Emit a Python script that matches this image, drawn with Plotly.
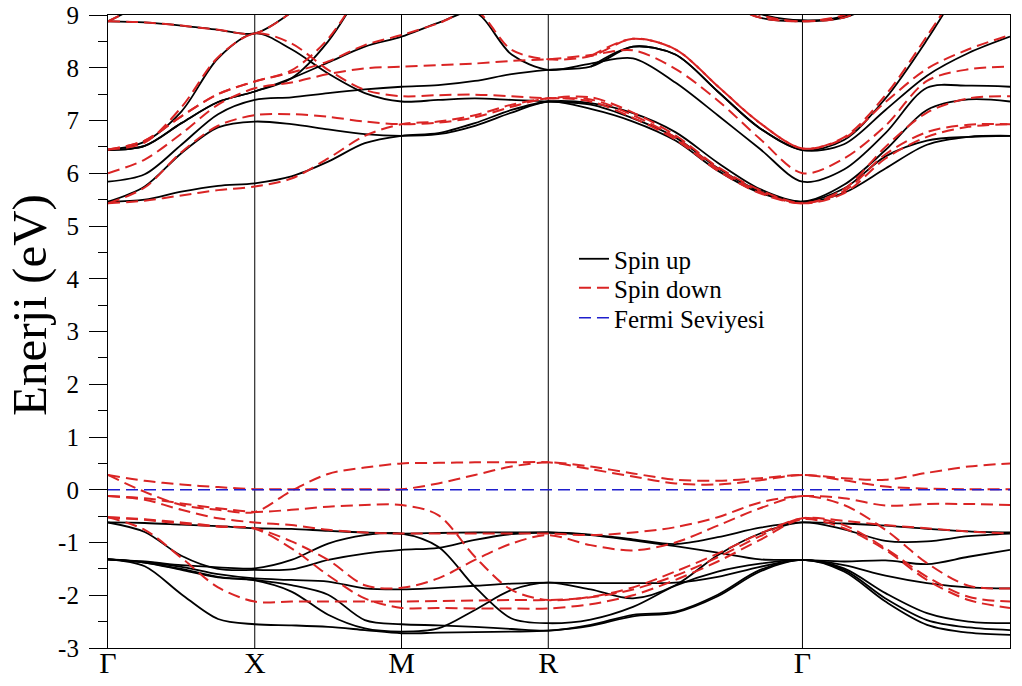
import numpy as np
import plotly.graph_objects as go

N = None

# ---- k-path (simple cubic): high-symmetry labels, segment lengths, samples per segment
sym_labels = ["Γ", "X", "M", "R", "Γ", "M"]
seg_lengths = [0.5, 0.5, 0.5, np.sqrt(3) / 2, np.sqrt(2) / 2]
seg_steps = [4, 4, 4, 6, 5]

sym_k = np.concatenate([[0.0], np.cumsum(seg_lengths)])
k_path = [sym_k[0]]
for i, n in enumerate(seg_steps):
    k_path += list(np.linspace(sym_k[i], sym_k[i + 1], n + 1)[1:])

fermi_level = 0.0
energy_ticks = [-3, -2, -1, 0, 1, 2, 3, 4, 5, 6, 7, 8, 9]
energy_tick_labels = ["-3", "-2", "-1", "0", "1", "2", "3", "4", "5", "6", "7", "8", "9"]
y_title = "Enerji (eV)"
legend_names = ["Spin up", "Spin down", "Fermi Seviyesi"]

# ---- Spin up (black) bands, energies in eV read at the k_path samples
spin_up_conduction = [
    [5.46, 5.50, 5.65, 5.76, 5.81, 5.94, 6.22, 6.57, 6.71, 6.76, 6.95, 7.20, 7.36, 7.33, 7.14, 6.78, 6.20, 5.70, 5.46, 5.63, 6.09, 6.54, 6.69, 6.71],
    [5.46, 5.75, 6.38, 6.87, 6.98, 6.93, 6.83, 6.74, 6.71, 6.74, 6.90, 7.15, 7.36, 7.22, 6.98, 6.62, 6.05, 5.63, 5.46, 5.71, 6.32, 6.62, 6.69, 6.71],
    [5.84, 5.98, 6.54, 7.12, 7.39, 7.44, 7.52, 7.59, 7.64, 7.67, 7.75, 7.88, 7.96, 8.02, 8.40, 8.25, 7.55, 6.85, 6.44, 6.55, 7.20, 7.85, 8.28, 8.59],
    [6.44, 6.52, 6.95, 7.35, 7.55, 7.80, 8.10, 8.40, 8.59, 8.85, 9.05, 8.25, 7.96, 8.08, 8.18, 7.72, 7.10, 6.46, 5.84, 6.07, 6.76, 7.62, 7.66, 7.64],
    [6.44, 6.60, 7.17, 8.18, 8.65, 8.35, 7.89, 7.52, 7.36, 7.39, 7.42, 7.39, 7.36, 7.30, 7.04, 6.68, 6.10, 5.66, 5.46, 5.78, 6.44, 7.20, 7.40, 7.36],
    [8.88, 8.86, 8.80, 8.72, 8.65, 9.05, 9.60, N, N, N, N, N, N, N, N, N, 9.40, 9.02, 8.90, 8.98, 9.40, N, N, N],
    [8.88, 9.25, 9.80, N, N, N, N, N, N, N, N, N, N, N, N, N, 9.30, 8.95, 8.88, 8.95, 9.30, N, N, N],
    [6.44, 6.52, 6.95, 7.35, 7.55, 7.80, 8.50, 9.60, N, N, N, N, N, 8.02, 8.40, 8.25, 7.55, 6.85, 6.44, 6.63, 7.42, 8.53, 9.80, N],
]

spin_up_valence = [
    [-0.62, -0.63, -0.66, -0.69, -0.73, -0.74, -0.78, -0.81, -0.83, -0.82, -0.81, -0.81, -0.81, -0.86, -0.96, -1.07, -1.19, -1.32, -1.33, -1.36, -1.34, -1.41, -1.27, -1.14],
    [-0.62, -0.80, -1.25, -1.50, -1.52, -1.51, -1.33, -1.21, -1.14, -1.10, -0.95, -0.84, -0.81, -0.85, -0.94, -1.03, -0.90, -0.72, -0.62, -0.64, -0.68, -0.74, -0.79, -0.81],
    [-1.32, -1.36, -1.43, -1.47, -1.49, -1.33, -1.02, -0.86, -0.83, -1.08, -1.84, -2.44, -2.53, -2.46, -2.22, -1.82, -1.55, -1.40, -1.33, -1.43, -1.63, -1.77, -1.85, -1.87],
    [-1.32, -1.37, -1.46, -1.60, -1.68, -1.71, -1.74, -1.87, -1.89, -1.86, -1.82, -1.78, -1.76, -1.77, -1.77, -1.76, -1.65, -1.46, -1.33, -1.49, -1.96, -2.34, -2.50, -2.53],
    [-1.32, -1.38, -1.50, -1.65, -1.71, -1.81, -1.99, -2.47, -2.55, -2.57, -2.60, -2.64, -2.67, -2.56, -2.37, -2.31, -1.99, -1.52, -1.33, -1.52, -2.06, -2.47, -2.61, -2.66],
    [-1.32, -1.45, -1.98, -2.45, -2.55, -2.57, -2.60, -2.66, -2.72, -2.71, -2.70, -2.69, -2.67, -2.58, -2.40, -2.33, -2.02, -1.55, -1.33, -1.55, -2.12, -2.56, -2.71, -2.75],
    [-1.32, -1.38, -1.52, -1.66, -1.72, -1.93, -2.37, -2.63, -2.69, -2.63, -2.28, -1.90, -1.76, -1.89, -2.06, -1.81, -1.24, -0.83, -0.62, -0.75, -0.97, -0.98, -0.88, -0.83],
]

# ---- Spin down (red) bands
spin_down_conduction = [
    [5.43, 5.48, 5.58, 5.68, 5.75, 5.90, 6.28, 6.71, 6.93, 6.98, 7.10, 7.30, 7.42, 7.44, 7.15, 6.72, 6.12, 5.68, 5.43, 5.62, 6.28, 6.69, 6.88, 6.93],
    [5.43, 5.73, 6.40, 6.90, 7.10, 7.12, 7.07, 6.98, 6.93, 6.96, 7.06, 7.26, 7.42, 7.36, 7.05, 6.64, 6.05, 5.62, 5.43, 5.66, 6.36, 6.78, 6.92, 6.93],
    [6.00, 6.26, 6.75, 7.30, 7.61, 7.72, 7.88, 7.99, 8.02, 8.05, 8.08, 8.13, 8.16, 8.24, 8.33, 7.98, 7.38, 6.65, 6.00, 6.28, 6.90, 7.75, 7.97, 8.02],
    [6.45, 6.62, 7.08, 7.50, 7.74, 7.91, 8.12, 8.43, 8.62, 8.84, 9.08, 8.34, 8.16, 8.22, 8.55, 8.35, 7.65, 6.95, 6.47, 6.66, 7.35, 7.98, 8.35, 8.62],
    [6.45, 6.58, 7.25, 8.20, 8.65, 8.46, 7.96, 7.58, 7.46, 7.48, 7.49, 7.46, 7.42, 7.40, 7.10, 6.68, 6.09, 5.65, 5.43, 5.70, 6.50, 7.15, 7.42, 7.46],
    [8.88, 8.86, 8.80, 8.72, 8.65, 9.05, 9.60, N, N, N, N, N, N, N, N, N, 9.40, 9.00, 8.88, 9.00, 9.40, N, N, N],
    [8.88, 9.25, 9.80, N, N, N, N, N, N, N, N, N, N, N, N, N, 9.30, 8.95, 8.88, 8.95, 9.30, N, N, N],
    [6.45, 6.62, 7.08, 7.50, 7.74, 7.95, 8.55, 9.60, N, N, N, N, N, 8.22, 8.55, 8.35, 7.65, 6.95, 6.47, 6.68, 7.48, 8.60, 9.80, N],
]

spin_down_valence = [
    [0.28, 0.17, 0.10, 0.05, 0.01, 0.01, 0.01, 0.01, 0.01, 0.12, 0.28, 0.44, 0.52, 0.44, 0.31, 0.19, 0.17, 0.22, 0.28, 0.22, 0.19, 0.32, 0.44, 0.50],
    [0.28, -0.04, -0.29, -0.38, -0.42, -0.02, 0.30, 0.42, 0.50, 0.51, 0.52, 0.52, 0.52, 0.39, 0.25, 0.12, 0.10, 0.18, 0.28, 0.18, 0.06, 0.02, 0.01, 0.01],
    [-0.12, -0.16, -0.26, -0.35, -0.42, -0.38, -0.32, -0.29, -0.29, -0.48, -1.27, -1.90, -2.09, -2.03, -1.85, -1.55, -1.21, -0.83, -0.54, -0.59, -0.67, -0.73, -0.79, -0.83],
    [-0.12, -0.19, -0.38, -0.54, -0.62, -0.67, -0.76, -0.81, -0.83, -0.83, -0.83, -0.83, -0.83, -0.86, -0.81, -0.71, -0.52, -0.24, -0.12, -0.16, -0.30, -0.27, -0.27, -0.29],
    [-0.52, -0.56, -0.62, -0.69, -0.73, -0.98, -1.33, -1.81, -1.86, -1.68, -1.33, -1.02, -0.86, -1.05, -1.15, -1.00, -0.68, -0.35, -0.12, -0.29, -0.76, -1.39, -1.82, -1.87],
    [-0.52, -0.57, -0.64, -0.70, -0.74, -1.11, -1.62, -2.06, -2.24, -2.24, -2.25, -2.25, -2.25, -2.17, -2.00, -1.71, -1.36, -0.95, -0.56, -0.73, -1.14, -1.71, -2.09, -2.24],
    [-0.52, -0.76, -1.29, -1.85, -2.12, -2.12, -2.12, -2.12, -2.12, -2.11, -2.10, -2.09, -2.09, -2.04, -1.89, -1.63, -1.28, -0.88, -0.54, -0.67, -1.11, -1.65, -2.03, -2.12],
]

BLACK = "black"
RED = "rgb(218,36,36)"
BLUE = "rgb(30,30,205)"
FONT = "Liberation Serif"

fig = go.Figure()


def add_band(vals, color, dash, width, name, show, legend):
    fig.add_trace(go.Scatter(
        x=k_path, y=vals, mode="lines", name=name, showlegend=show,
        legend=legend, legendgroup=name, hoverinfo="skip", connectgaps=False,
        line=dict(color=color, width=width, dash=dash, shape="spline", smoothing=0.9),
    ))


for i, b in enumerate(spin_up_valence + spin_up_conduction):
    add_band(b, BLACK, "solid", 1.8, legend_names[0], i == 0, "legend")
for i, b in enumerate(spin_down_valence + spin_down_conduction):
    add_band(b, RED, "12px,6px", 2.0, legend_names[1], i == 0, "legend2")

fig.add_trace(go.Scatter(
    x=[sym_k[0], sym_k[-1]], y=[fermi_level, fermi_level], mode="lines",
    name=legend_names[2], hoverinfo="skip", legend="legend3",
    line=dict(color=BLUE, width=1.6, dash="12px,6px"),
))

for kv in sym_k[1:-1]:
    fig.add_vline(x=kv, line=dict(color="black", width=1), layer="below")

legend_style = dict(x=0.5166, xanchor="left", yanchor="middle",
                    font=dict(family=FONT, size=25, color="black"),
                    bgcolor="rgba(0,0,0,0)", borderwidth=0)

fig.update_layout(
    width=1022, height=686,
    margin=dict(l=108, r=12, t=15, b=38, autoexpand=False),
    paper_bgcolor="white", plot_bgcolor="white",
    font=dict(family=FONT, color="black"),
    legend=dict(y=0.6145, **legend_style),
    legend2=dict(y=0.5687, **legend_style),
    legend3=dict(y=0.5213, **legend_style),
)
fig.add_annotation(
    text=y_title, textangle=-90, xref="paper", yref="paper",
    x=-0.0865, y=0.542, xanchor="center", yanchor="middle", showarrow=False,
    font=dict(family=FONT, size=49, color="black"),
)
fig.update_xaxes(
    range=[sym_k[0], sym_k[-1]], tickvals=sym_k, ticktext=sym_labels,
    ticks="", showline=True, mirror=True, linecolor="black", linewidth=1.2,
    showgrid=False, zeroline=False, automargin=False, ticklabelstandoff=-12,
    tickfont=dict(family=FONT, size=30, color="black"),
)
fig.update_yaxes(
    range=[-3, 9], tickvals=energy_ticks, ticktext=energy_tick_labels,
    ticks="outside", ticklen=18, tickwidth=1, tickcolor="black",
    minor=dict(dtick=0.5, tick0=0, ticks="outside", ticklen=9, tickcolor="black", tickwidth=1, showgrid=False),
    showline=True, mirror=True, linecolor="black", linewidth=1.2,
    showgrid=False, zeroline=False, automargin=False,
    ticklabeloverflow="allow", ticklabelstandoff=5,
    tickfont=dict(family=FONT, size=25, color="black"),
)

# remove the page's default body margin so the figure fills the window exactly
fig.write_html("out.html", config={"displayModeBar": False},
               post_script="document.body.style.margin='0px';")
